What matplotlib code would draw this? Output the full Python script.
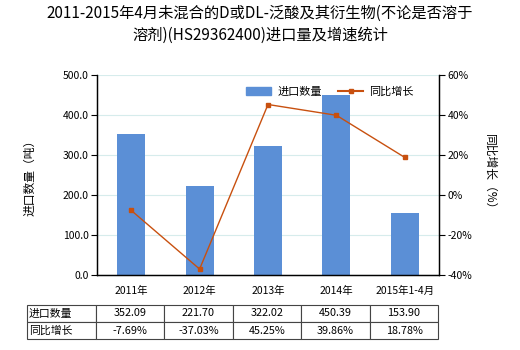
import matplotlib.pyplot as plt
from matplotlib.lines import Line2D
from matplotlib.patches import Patch

plt.rcParams['font.family'] = ['Noto Sans CJK SC', 'DejaVu Sans']

# Data
categories = ["2011年", "2012年", "2013年", "2014年", "2015年1-4月"]
volume = [352.09, 221.70, 322.02, 450.39, 153.90]
growth = [-7.69, -37.03, 45.25, 39.86, 18.78]
volume_labels = ["352.09", "221.70", "322.02", "450.39", "153.90"]
growth_labels = ["-7.69%", "-37.03%", "45.25%", "39.86%", "18.78%"]

bar_color = "#5b8fd6"
line_color = "#c8500f"

fig = plt.figure(figsize=(5.2, 3.5), dpi=100)
ax = fig.add_axes([97 / 520, 1 - 275 / 350, 342 / 520, 200 / 350])
ax2 = ax.twinx()

x = list(range(len(categories)))
ax.bar(x, volume, width=0.41, color=bar_color, zorder=2)
ax.set_xlim(-0.5, len(categories) - 0.5)
ax.set_ylim(0, 500)
ax.set_yticks([0, 100, 200, 300, 400, 500])
ax.set_yticklabels([f"{v:.1f}" for v in [0, 100, 200, 300, 400, 500]], fontsize=7.5)
ax.grid(axis="y", color="#d6ecec", linewidth=0.8, zorder=0)
ax.set_axisbelow(True)
ax.set_xticks(x)
ax.set_xticklabels(categories, fontsize=7.5)
ax.tick_params(axis="x", length=0, pad=8)
ax.tick_params(axis="y", length=4, width=0.8, pad=2)
ax.set_ylabel("进口数量（吨）", fontsize=8.5, labelpad=19)

ax2.plot(x, growth, color=line_color, linewidth=1, marker="s", markersize=3.5, zorder=3)
ax2.set_ylim(-40, 60)
ax2.set_yticks([-40, -20, 0, 20, 40, 60])
ax2.set_yticklabels([f"{v}%" for v in [-40, -20, 0, 20, 40, 60]], fontsize=7.5)
ax2.tick_params(axis="y", length=4, width=0.8, pad=2)
ax2.set_ylabel("同比增长（%）", fontsize=8.5, rotation=-90, labelpad=17)

for a in (ax, ax2):
    a.spines["top"].set_visible(False)
    for s in ("left", "right", "bottom"):
        a.spines[s].set_linewidth(0.9)
        a.spines[s].set_color("black")

handles = [Patch(color=bar_color, label="进口数量"),
           Line2D([], [], color=line_color, marker="s", markersize=3, linewidth=1.5, label="同比增长")]
fig.legend(handles=handles, loc="center", bbox_to_anchor=(330 / 520, 1 - 92 / 350), ncol=2,
           frameon=False, fontsize=8, handlelength=2.2, columnspacing=1.5, handletextpad=0.6)

fig.suptitle("2011-2015年4月未混合的D或DL-泛酸及其衍生物(不论是否溶于\n溶剂)(HS29362400)进口量及增速统计",
             x=0.5, y=0.985, fontsize=11, linespacing=1.35)

cells = [["进口数量"] + volume_labels, ["同比增长"] + growth_labels]
tbl = ax.table(cellText=cells, cellLoc="center",
               colWidths=[69, 68, 69, 68, 69, 68],
               bbox=[(27 - 97) / 342, (275 - 339) / 200, (438 - 27) / 342, 34 / 200])
tbl.auto_set_font_size(False)
for (r, c), cell in tbl.get_celld().items():
    cell.set_fontsize(7.8)
    cell.set_linewidth(0.8)
    cell.set_edgecolor("#444444")
    if c == 0:
        cell.set_text_props(ha="left")
        cell._loc = "left"
        cell.PAD = 0.03

fig.savefig("out.png", dpi=100)
